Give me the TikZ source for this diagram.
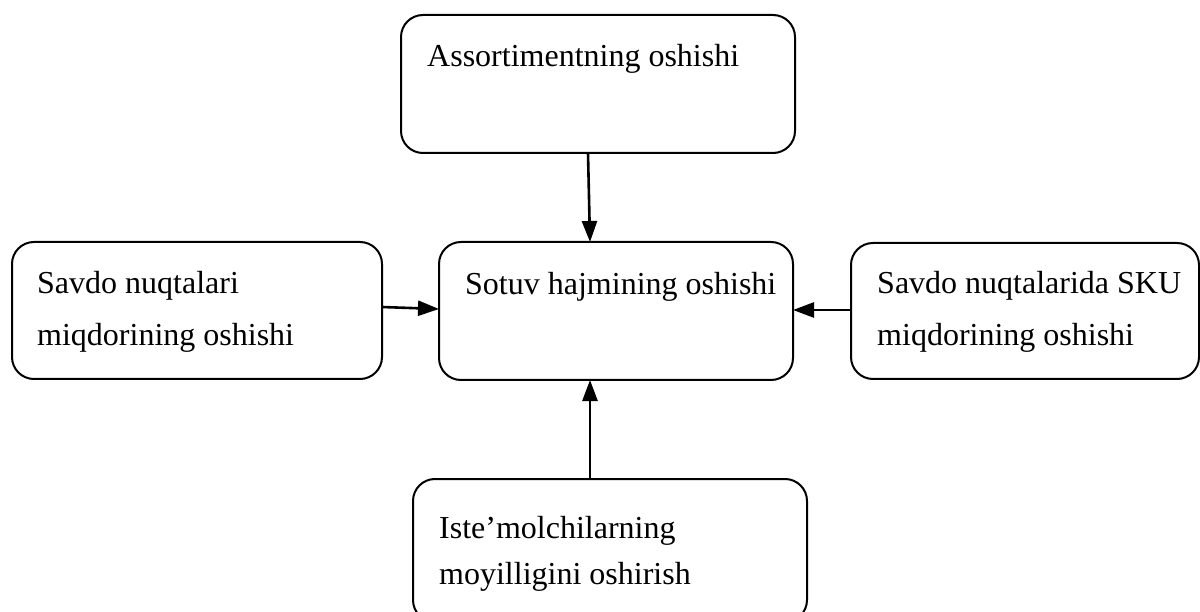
\documentclass[tikz,border=0pt]{standalone}
\usepackage{fontspec}
\setmainfont{Liberation Serif}
\usetikzlibrary{arrows.meta}
\begin{document}
\begin{tikzpicture}[x=1pt,y=-1pt,
  box/.style={draw, line width=2pt, rounded corners=22pt, inner sep=0pt},
  lbl/.style={anchor=base west, inner sep=0pt, font=\fontsize{32}{38}\selectfont},
  arr/.style={line width=2.6pt, -{Triangle[length=21pt,width=15pt]}}]
\useasboundingbox (0,0) rectangle (1200,612);
% boxes
\path[box] (401,15) rectangle (795,153) node[pos=0.5] (top) {};
\path[box] (439,242) rectangle (793,380) node[pos=0.5] (mid) {};
\path[box] (12,242) rectangle (382,379) node[pos=0.5] (left) {};
\path[box] (851,243) rectangle (1199,379) node[pos=0.5] (right) {};
\path[box] (413,479) rectangle (807,622) node[pos=0.5] (bot) {};
% texts, one node per line
\node[lbl] (ttop) at (427,67) {Assortimentning oshishi};
\node[lbl] (tmid) at (465,295) {Sotuv hajmining oshishi};
\node[lbl] (tleftA) at (37,294) {Savdo nuqtalari};
\node[lbl] (tleftB) at (37,346) {miqdorining oshishi};
\node[lbl] (trightA) at (877,294) {Savdo nuqtalarida SKU};
\node[lbl] (trightB) at (877,346) {miqdorining oshishi};
\node[lbl] (tbotA) at (439,538) {Iste’molchilarning};
\node[lbl] (tbotB) at (439,584) {moyilligini oshirish};
% connector ends
\coordinate (a1) at (588,153); \coordinate (a2) at (590,242);
\coordinate (b1) at (382,307); \coordinate (b2) at (439,309);
\coordinate (c1) at (851,310); \coordinate (c2) at (793,310);
\coordinate (d1) at (590,479); \coordinate (d2) at (590,380);
\draw[arr] (a1) -- (a2);
\draw[arr] (b1) -- (b2);
\draw[arr] (c1) -- (c2);
\draw[arr] (d1) -- (d2);
\end{tikzpicture}
\end{document}
